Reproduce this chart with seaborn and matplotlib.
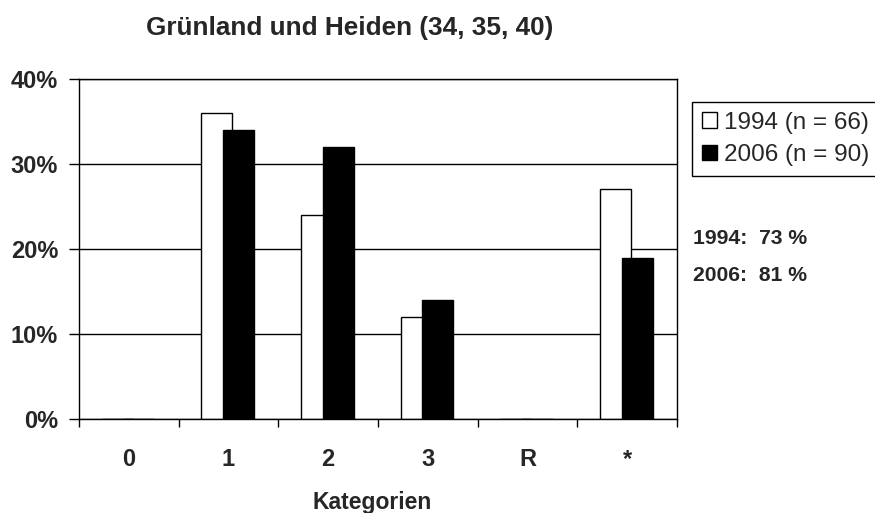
import matplotlib
matplotlib.use("Agg")
import matplotlib.pyplot as plt
from matplotlib.patches import Patch
from matplotlib.ticker import FixedLocator, PercentFormatter
import seaborn as sns
import pandas as pd

# ---- data ----
categories = ["0", "1", "2", "3", "R", "*"]
years = ["1994", "2006"]
values_1994 = [0, 36, 24, 12, 0, 27]   # percent
values_2006 = [0, 34, 32, 14, 0, 19]   # percent
legend_labels = ["1994 (n = 66)", "2006 (n = 90)"]
notes = ["1994:  73 %", "2006:  81 %"]
title = "Grünland und Heiden (34, 35, 40)"
xlabel = "Kategorien"

df = pd.DataFrame({
    "Kategorie": categories * 2,
    "Jahr": [years[0]] * len(categories) + [years[1]] * len(categories),
    "Anteil": [v / 100 for v in values_1994] + [v / 100 for v in values_2006],
})

sns.set_style("white")
plt.rcParams["font.family"] = ["Liberation Sans", "DejaVu Sans"]

W, H = 875, 513
fig = plt.figure(figsize=(W / 100, H / 100), dpi=100)
L, R, T, B = 79, 677, 79, 419
ax = fig.add_axes([L / W, 1 - B / H, (R - L) / W, (B - T) / H])

colors = {"1994": "white", "2006": "black"}
sns.barplot(data=df, x="Kategorie", y="Anteil", hue="Jahr", hue_order=years,
            order=categories, palette=colors, edgecolor="black", linewidth=1,
            width=0.62, dodge=True, saturation=1, ax=ax, legend=False)

# overlapping bars (as in the original chart)
shifts = [0.038, -0.055]
for cont, s in zip(ax.containers, shifts):
    for p in cont.patches:
        p.set_x(p.get_x() + s)
for p in ax.containers[0].patches:
    p.set_zorder(2)
for p in ax.containers[1].patches:
    p.set_zorder(3)

ax.set_xlim(-0.5, len(categories) - 0.5)
ax.set_ylim(0, 0.4)
ax.set_yticks([0, 0.1, 0.2, 0.3, 0.4])
ax.yaxis.set_major_formatter(PercentFormatter(1.0, decimals=0))
ax.yaxis.grid(True, color="black", linewidth=1)
ax.set_axisbelow(True)

for s in ["left", "bottom", "right", "top"]:
    ax.spines[s].set_visible(True)
    ax.spines[s].set_color("black")
    ax.spines[s].set_linewidth(1)
    ax.spines[s].set_zorder(4)

ax.tick_params(axis="y", which="major", direction="out", length=7, width=1,
               color="black", pad=8, left=True, labelsize=17)
ax.xaxis.set_minor_locator(FixedLocator([i - 0.5 for i in range(len(categories) + 1)]))
ax.tick_params(axis="x", which="minor", direction="out", length=6, width=1,
               color="black", bottom=True)
ax.tick_params(axis="x", which="major", length=0, pad=21, labelsize=17)
for lab in ax.get_xticklabels() + ax.get_yticklabels():
    lab.set_fontweight("bold")

ax.set_xlabel(xlabel, fontsize=16.5, fontweight="bold")
ax.xaxis.set_label_coords((372 - L) / (R - L), -(503 - B) / (B - T))
ax.xaxis.label.set_va("center")
ax.set_ylabel("")

fig.text(350 / W, 1 - 35 / H, title, ha="center", va="baseline",
         fontsize=18.8, fontweight="bold")

handles = [Patch(facecolor=colors[y], edgecolor="black", linewidth=1) for y in years]
leg = ax.legend(handles, legend_labels, loc="upper left",
                bbox_to_anchor=(692 / W, 1 - 102 / H), bbox_transform=fig.transFigure,
                borderaxespad=0, frameon=True, fancybox=False, framealpha=1,
                edgecolor="black", fontsize=17.5, handlelength=0.62, handleheight=0.62,
                handletextpad=0.3, borderpad=0.4, labelspacing=0.42)
leg.get_frame().set_linewidth(1)

for txt, yb in zip(notes, [244, 281]):
    fig.text(693 / W, 1 - yb / H, txt, ha="left", va="baseline",
             fontsize=15.2, fontweight="bold")

fig.savefig("out.png", dpi=100)
